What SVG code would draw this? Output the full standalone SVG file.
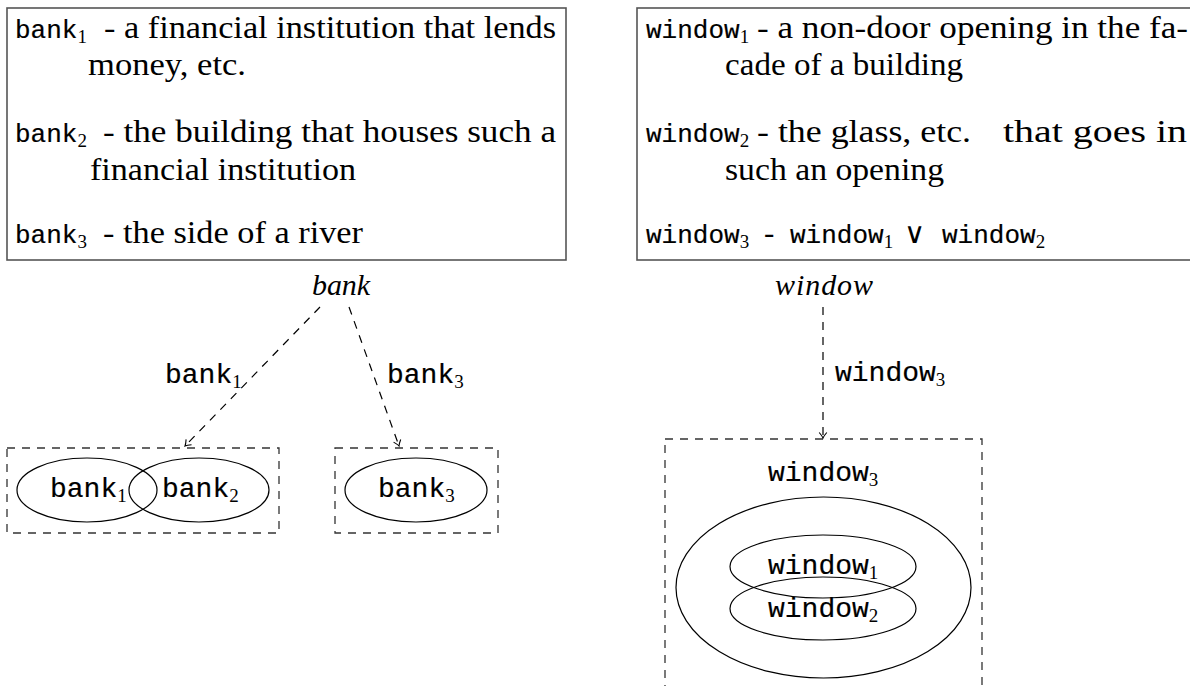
<svg xmlns="http://www.w3.org/2000/svg" width="1190" height="686" viewBox="0 0 1190 686">
<defs>
<style>
.tt{font-family:"Liberation Mono","DejaVu Sans Mono",monospace;fill:#000;stroke:#000;stroke-width:0.2}
.tt1{font-size:26px}
.tt2{font-size:28px}
.rm{font-family:"Liberation Serif","DejaVu Serif",serif;font-size:31px;fill:#000}
.it{font-family:"Liberation Serif","DejaVu Serif",serif;font-style:italic;font-size:30px;fill:#000}
.sub{font-family:"Liberation Serif","DejaVu Serif",serif;font-size:19px;stroke-width:0}
.vee{font-family:"DejaVu Sans","Liberation Serif",sans-serif;font-size:29px;fill:#000}
.box{fill:#fff;stroke:#555;stroke-width:1.6}
.dbox{fill:none;stroke:#333;stroke-width:1.3;stroke-dasharray:8 7}
.ell{fill:none;stroke:#000;stroke-width:1.2}
.edge{fill:none;stroke:#000;stroke-width:1.2;stroke-dasharray:8 7;marker-end:url(#arr)}
</style>
<marker id="arr" markerUnits="userSpaceOnUse" viewBox="-8 -6 10 12" markerWidth="10" markerHeight="12" refX="0" refY="0" orient="auto">
<path d="M-5.5,-3.8 Q-2,-0.8 0,0 Q-2,0.8 -5.5,3.8" fill="none" stroke="#000" stroke-width="1.1" stroke-dasharray="none"/>
</marker>
</defs>
<rect width="1190" height="686" fill="#fff"/>

<g id="bank-senses">
<rect class="box" x="7" y="8" width="559" height="252"/>
<text class="tt tt1" x="15" y="38">bank<tspan class="sub" dy="5">1</tspan></text>
<text class="rm" x="104" y="38" textLength="452" lengthAdjust="spacingAndGlyphs">- a financial institution that lends</text>
<text class="rm" x="88" y="75" textLength="158" lengthAdjust="spacingAndGlyphs">money, etc.</text>
<text class="tt tt1" x="15" y="142">bank<tspan class="sub" dy="5">2</tspan></text>
<text class="rm" x="103" y="142" textLength="453" lengthAdjust="spacingAndGlyphs">- the building that houses such a</text>
<text class="rm" x="90" y="180" textLength="266" lengthAdjust="spacingAndGlyphs">financial institution</text>
<text class="tt tt1" x="15" y="243">bank<tspan class="sub" dy="5">3</tspan></text>
<text class="rm" x="103" y="243" textLength="260" lengthAdjust="spacingAndGlyphs">- the side of a river</text>
</g>

<g id="window-senses">
<rect class="box" x="637" y="8" width="580" height="252"/>
<text class="tt tt1" x="646" y="38">window<tspan class="sub" dy="5">1</tspan></text>
<text class="rm" x="757" y="38" textLength="431" lengthAdjust="spacingAndGlyphs">- a non-door opening in the fa-</text>
<text class="rm" x="725" y="75" textLength="238" lengthAdjust="spacingAndGlyphs">cade of a building</text>
<text class="tt tt1" x="646" y="142">window<tspan class="sub" dy="5">2</tspan></text>
<text class="rm" x="757" y="142" textLength="214" lengthAdjust="spacingAndGlyphs">- the glass, etc.</text>
<text class="rm" x="1003" y="142" textLength="184" lengthAdjust="spacingAndGlyphs">that goes in</text>
<text class="rm" x="725" y="180" textLength="219" lengthAdjust="spacingAndGlyphs">such an opening</text>
<text class="tt tt1" x="646" y="243">window<tspan class="sub" dy="5">3</tspan></text>
<text class="rm" x="764" y="243">-</text>
<text class="tt tt1" x="790" y="243">window<tspan class="sub" dy="5">1</tspan></text>
<text class="vee" x="904" y="243">∨</text>
<text class="tt tt1" x="942" y="243">window<tspan class="sub" dy="5">2</tspan></text>
</g>

<g id="bank-word">
<text class="it" x="312" y="295" textLength="58">bank</text>
</g>

<g id="bank-group-12">
<rect class="dbox" x="7" y="448" width="272" height="85"/>
<ellipse class="ell" cx="87" cy="490" rx="70" ry="32"/>
<ellipse class="ell" cx="199" cy="490" rx="70" ry="32"/>
<text class="tt tt2" x="50" y="497">bank<tspan class="sub" dy="5">1</tspan></text>
<text class="tt tt2" x="162" y="497">bank<tspan class="sub" dy="5">2</tspan></text>
</g>

<g id="bank-group-3">
<rect class="dbox" x="335" y="448" width="163" height="85"/>
<ellipse class="ell" cx="416" cy="490" rx="71" ry="32"/>
<text class="tt tt2" x="378" y="497">bank<tspan class="sub" dy="5">3</tspan></text>
</g>

<g id="window-word">
<text class="it" x="775" y="295" textLength="98">window</text>
</g>

<g id="window-group">
<rect class="dbox" x="665" y="439" width="317" height="290"/>
<text class="tt tt2" x="768" y="481">window<tspan class="sub" dy="5">3</tspan></text>
<ellipse class="ell" cx="823.5" cy="587.5" rx="147.5" ry="90.5"/>
<ellipse class="ell" cx="823" cy="566.5" rx="93" ry="31.5"/>
<ellipse class="ell" cx="823" cy="608.5" rx="93" ry="31.5"/>
<text class="tt tt2" x="768" y="574">window<tspan class="sub" dy="5">1</tspan></text>
<text class="tt tt2" x="768" y="617">window<tspan class="sub" dy="5">2</tspan></text>
</g>

<g id="connectors">
<path class="edge" d="M320,307 L185,446"/>
<path class="edge" d="M349,307 L399,446"/>
<path class="edge" d="M823,307 L823,438"/>
<text class="tt tt2" x="165" y="383">bank<tspan class="sub" dy="5">1</tspan></text>
<text class="tt tt2" x="387" y="383">bank<tspan class="sub" dy="5">3</tspan></text>
<text class="tt tt2" x="835" y="381">window<tspan class="sub" dy="5">3</tspan></text>
</g>
</svg>
